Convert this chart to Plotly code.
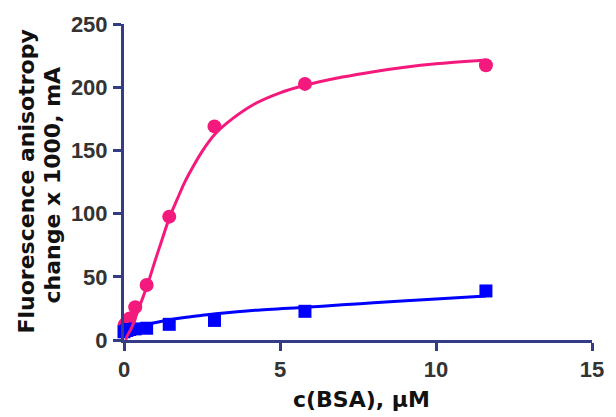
import plotly.graph_objects as go

# Measured data points
conc_pink = [0.02, 0.09, 0.18, 0.36, 0.725, 1.45, 2.9, 5.8, 11.6]
aniso_pink = [12, 14, 17, 26, 43.5, 97.6, 169, 202.6, 217.4]
conc_blue = [0.0, 0.09, 0.18, 0.36, 0.725, 1.45, 2.9, 5.8, 11.6]
aniso_blue = [6.5, 7.5, 8.3, 8.8, 9.3, 12.4, 15.5, 22.7, 38.8]

# Fitted curves
fit_pink_x = [0.06, 0.09, 0.25, 0.4, 0.55, 0.75, 1.0, 1.2, 1.47, 1.7, 1.91, 2.07, 2.5, 2.94,
              3.5, 4.17, 5.0, 5.8, 7.0, 8.0, 9.0, 10.0, 11.6]
fit_pink_y = [0, 2.6, 10, 20, 30, 43.5, 63, 78, 97.8, 111, 123, 130.7, 149, 163.5,
              175.5, 186.5, 195.5, 201.5, 208, 212.3, 215.8, 218.5, 221.5]
fit_blue_x = [0.0, 0.2, 0.4, 0.75, 1.1, 1.46, 2.0, 2.5, 2.94, 4.2, 5.8, 7.0, 8.0, 10.0, 11.6]
fit_blue_y = [6.0, 8.0, 9.7, 12.4, 14.3, 16.0, 18.0, 19.5, 20.7, 23.5, 25.9, 27.8, 29.5, 32.5, 34.9]

x_ticks = [0, 5, 10, 15]
y_ticks = [0, 50, 100, 150, 200, 250]

PINK = "#F41A7D"
BLUE = "#0000FF"
AXIS = "#353C86"
TICK_FONT = "Liberation Sans, Arial, sans-serif"
TITLE_FONT = "DejaVu Sans, sans-serif"

fig = go.Figure()
fig.add_trace(go.Scatter(x=conc_pink, y=aniso_pink, mode="markers",
                         marker=dict(symbol="circle", size=14, color=PINK),
                         cliponaxis=False, showlegend=False))
fig.add_trace(go.Scatter(x=conc_blue, y=aniso_blue, mode="markers",
                         marker=dict(symbol="square", size=13, color=BLUE),
                         cliponaxis=False, showlegend=False))
fig.add_trace(go.Scatter(x=fit_blue_x, y=fit_blue_y, mode="lines",
                         line=dict(color=BLUE, width=3, shape="spline", smoothing=0.8),
                         showlegend=False))
fig.add_trace(go.Scatter(x=fit_pink_x, y=fit_pink_y, mode="lines",
                         line=dict(color=PINK, width=3, shape="spline", smoothing=0.8),
                         showlegend=False))

axis_common = dict(showline=True, linecolor=AXIS, linewidth=3, ticks="outside",
                   ticklen=8, tickwidth=3, tickcolor=AXIS, showgrid=False,
                   zeroline=False,
                   tickfont=dict(family=TICK_FONT, size=22, color="#333333", weight="bold"))

fig.update_xaxes(range=[0, 15], tickvals=x_ticks, ticklabelstandoff=0, **axis_common)
fig.update_yaxes(range=[0, 250], tickvals=y_ticks, ticklabelstandoff=1, **axis_common)

title_font = dict(family=TITLE_FONT, size=22, color="#111111", weight="bold")
fig.add_annotation(text="Fluorescence anisotropy",
                   textangle=-90, xref="paper", yref="paper", x=0, y=0.5016,
                   xanchor="center", yanchor="middle", xshift=-98, showarrow=False,
                   font=title_font)
fig.add_annotation(text="change x 1000, mA",
                   textangle=-90, xref="paper", yref="paper", x=0, y=0.489,
                   xanchor="center", yanchor="middle", xshift=-72, showarrow=False,
                   font=title_font)
fig.add_annotation(text="c(BSA), μM", xref="paper", yref="paper",
                   x=0.5, y=0, xanchor="center", yanchor="middle", yshift=-59, xshift=3,
                   showarrow=False, font=title_font)

fig.update_layout(width=616, height=417, margin=dict(l=124, r=16, t=19, b=77),
                  paper_bgcolor="white", plot_bgcolor="white")

fig.write_html("out.html")
